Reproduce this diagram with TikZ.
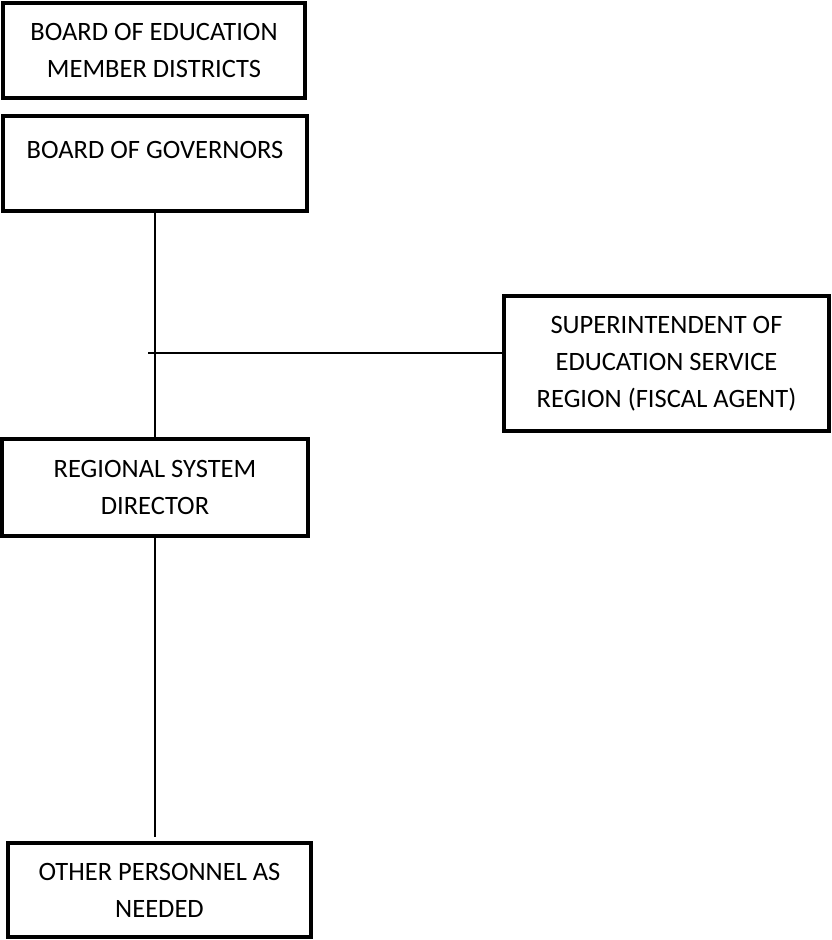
\documentclass[tikz,border=0pt]{standalone}
\usepackage{fontspec}
\setmainfont{Carlito}
\usepackage{tikz}

\begin{document}
\begin{tikzpicture}[x=1pt,y=-1pt,
  orgbox/.style={rectangle,draw,line width=4pt,inner sep=0,align=center,
    font=\fontsize{26.5}{37}\selectfont}]
  \useasboundingbox (0,0) rectangle (832,940);
  \node [orgbox,minimum width=302pt,minimum height=95pt] (board) at (154,50.5)
    {BOARD OF EDUCATION\\MEMBER DISTRICTS};
  \node [orgbox,minimum width=304pt,minimum height=95pt] (gov) at (155,163.5)
    {BOARD OF GOVERNORS\\[-20pt]\strut};
  \node [orgbox,minimum width=325pt,minimum height=135pt] (super) at (666.5,363.5)
    {SUPERINTENDENT OF\\EDUCATION SERVICE\\REGION (FISCAL AGENT)};
  \node [orgbox,minimum width=306pt,minimum height=97pt] (director) at (155,487.5)
    {REGIONAL SYSTEM\\DIRECTOR};
  \node [orgbox,minimum width=303pt,minimum height=94pt] (other) at (159.5,890)
    {OTHER PERSONNEL AS\\NEEDED};
  \coordinate (tee) at (148,353);
  \coordinate (stub) at (155,837);
  \draw [line width=1.5pt] (gov.south) -- (director.north);
  \draw [line width=1.5pt] (tee) -- (tee -| super.west);
  \draw [line width=1.5pt] (director.south) -- (stub);
\end{tikzpicture}
\end{document}
